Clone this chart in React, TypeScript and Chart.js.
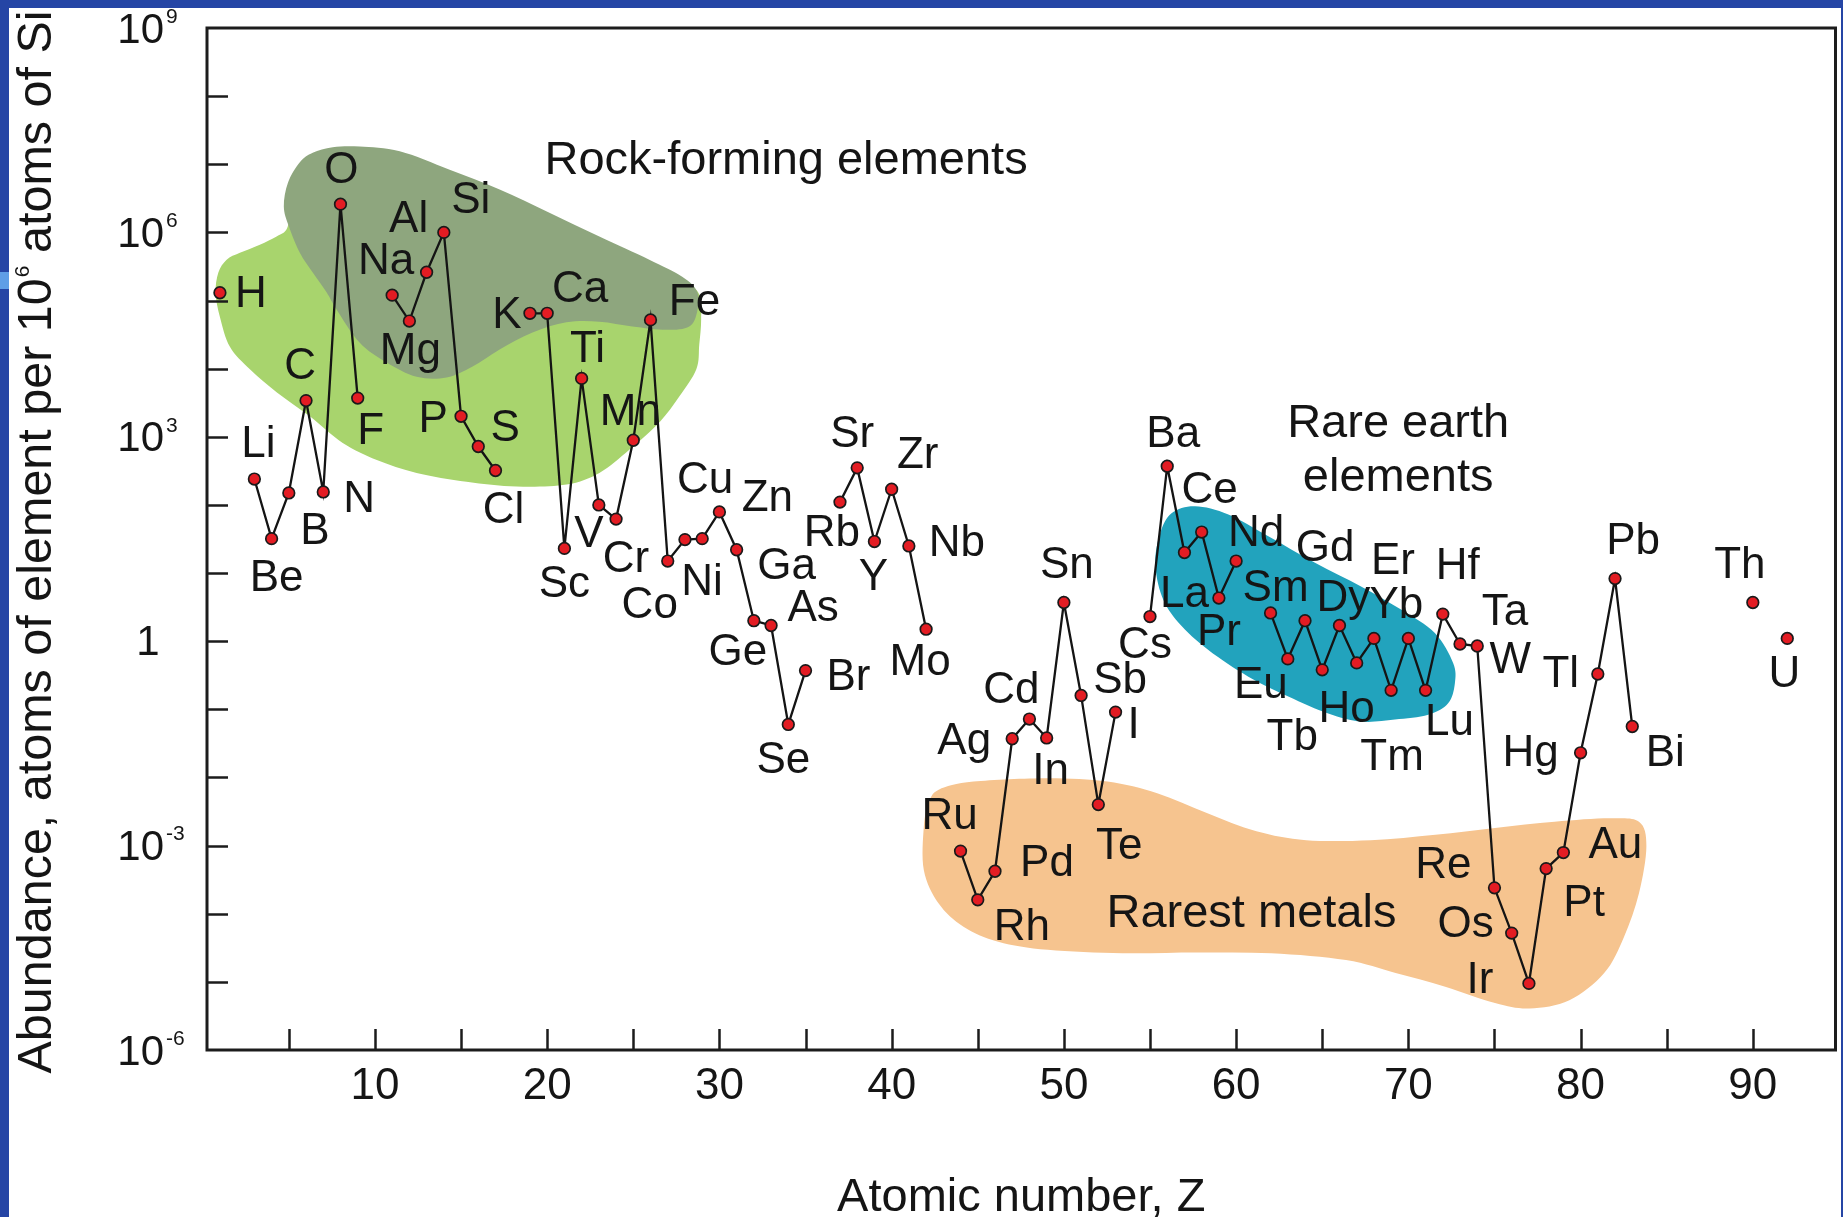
import React, { useEffect, useRef } from "react";
import { Chart, registerables } from "chart.js";

Chart.register(...registerables);

// ---------- data ----------
const SYMBOLS = ["H","Li","Be","B","C","N","O","F","Na","Mg","Al","Si","P","S","Cl","K","Ca","Sc","Ti","V","Cr","Mn","Fe","Co","Ni","Cu","Zn","Ga","Ge","As","Se","Br","Rb","Sr","Y","Zr","Nb","Mo","Ru","Rh","Pd","Ag","Cd","In","Sn","Sb","Te","I","Cs","Ba","La","Ce","Pr","Nd","Sm","Eu","Gd","Tb","Dy","Ho","Er","Tm","Yb","Lu","Hf","Ta","W","Re","Os","Ir","Pt","Au","Hg","Tl","Pb","Bi","Th","U"];

const ATOMIC_NUMBERS = [1,3,4,5,6,7,8,9,11,12,13,14,15,16,17,19,20,21,22,23,24,25,26,27,28,29,30,31,32,33,34,35,37,38,39,40,41,42,44,45,46,47,48,49,50,51,52,53,55,56,57,58,59,60,62,63,64,65,66,67,68,69,70,71,72,73,74,75,76,77,78,79,80,81,82,83,90,92];

// atoms of element per 10^6 atoms of Si
const ABUNDANCE = [
  1.3e5, 240, 32, 150, 3400, 155, 2.6e6, 3700,
  1.2e5, 5.0e4, 2.6e5, 1.0e6, 2000, 720, 320,
  6.5e4, 6.5e4, 23, 7200, 100, 62, 890, 5.2e4, 15, 31, 32, 79, 22, 2.0, 1.7, 0.06, 0.37,
  110, 350, 29, 170, 25, 1.5,
  8.3e-4, 1.6e-4, 4.2e-4, 0.037, 0.072, 0.038, 3.7, 0.16, 4.0e-3, 0.091,
  2.3, 370, 20, 40, 4.3, 15,
  2.6, 0.55, 2.0, 0.38, 1.7, 0.48, 1.1, 0.19, 1.1, 0.19, 2.5, 0.91, 0.85,
  2.4e-4, 5.2e-5, 9.5e-6, 4.6e-4, 7.9e-4, 0.023, 0.33, 8.3, 0.056,
  3.7, 1.1,
];

const X_TICKS = [5,10,15,20,25,30,35,40,45,50,55,60,65,70,75,80,85,90];
const X_TICK_LABELS = [10,20,30,40,50,60,70,80,90];
const Y_TICK_EXPONENTS = [-5,-4,-3,-2,-1,0,1,2,3,4,5,6,7,8];
const Y_LABEL_EXPONENTS = [9,6,3,0,-3,-6];

// region outlines: [atomic number, log10 abundance]
const GREEN_REGION = [[5.1,6.4],[5.25,6.7],[5.75,6.97],[6.45,7.11],[7.6,7.19],[9.12,7.2],[11.44,7.13],[14.34,6.86],[17.24,6.57],[20.13,6.23],[23.03,5.88],[25.93,5.54],[27.84,5.3],[28.83,5.09],[28.94,4.72],[28.83,4.35],[28.66,3.99],[27.67,3.59],[26.51,3.21],[24.77,2.81],[23.03,2.47],[21.12,2.3],[18.22,2.27],[15.32,2.34],[12.42,2.47],[10.11,2.66],[8.13,2.91],[6.22,3.3],[4.31,3.65],[2.74,3.99],[1.58,4.32],[1.0,4.76],[0.75,5.11],[0.91,5.41],[1.39,5.6],[2.16,5.7],[3.32,5.82],[4.29,5.94],[4.9,6.06]];
const DARK_REGION = [[4.71,6.38],[4.95,6.73],[5.64,7.03],[6.39,7.17],[7.55,7.25],[9.12,7.26],[11.44,7.19],[14.34,6.92],[17.24,6.63],[20.13,6.29],[23.03,5.94],[25.93,5.6],[27.84,5.35],[28.71,5.13],[28.71,4.84],[28.25,4.62],[26.92,4.57],[24.95,4.62],[23.03,4.69],[21.12,4.68],[19.15,4.53],[17.24,4.28],[15.67,4.03],[14.16,3.87],[12.42,3.88],[10.68,4.09],[9.12,4.38],[7.77,4.87],[7.19,5.12],[6.39,5.41],[5.64,5.7],[5.0,6.09]];
const TEAL_REGION = [[56.27,1.88],[57.62,1.98],[59.55,1.86],[61.87,1.54],[64.58,1.15],[67.28,0.8],[69.6,0.46],[71.54,0.12],[72.6,-0.32],[72.7,-0.62],[72.31,-0.91],[71.15,-1.08],[69.22,-1.15],[67.28,-1.18],[65.35,-1.06],[63.03,-0.81],[60.71,-0.52],[58.39,-0.13],[56.66,0.27],[55.69,0.66],[55.31,1.15],[55.6,1.59]];
const PEACH_REGION = [[42.73,-2.18],[44.75,-2.06],[49.07,-2.01],[52.53,-2.06],[55.42,-2.23],[58.3,-2.52],[61.18,-2.79],[64.07,-2.92],[67.82,-2.92],[71.57,-2.84],[75.03,-2.74],[78.49,-2.65],[81.66,-2.6],[83.39,-2.65],[83.82,-3.01],[83.39,-3.7],[82.52,-4.34],[81.37,-4.87],[79.35,-5.27],[77.04,-5.39],[75.03,-5.31],[72.14,-5.07],[69.26,-4.87],[66.38,-4.68],[62.05,-4.58],[57.72,-4.57],[53.4,-4.58],[49.07,-4.53],[46.19,-4.41],[44.17,-4.19],[42.73,-3.85],[41.87,-3.36],[41.87,-2.72],[42.15,-2.38]];

const REGION_TEXT = ["Rock-forming elements", "Rare earth", "elements", "Rarest metals"];
const REGION_TEXT_Z = [33.87, 69.41, 69.41, 60.89];
const REGION_TEXT_LOG = [6.85, 3.0, 2.21, -4.19];

// ---------- layout / style ----------
const LABEL_OFFSETS: Record<string, [number, number]> = {
  H:[31,2], Li:[4,-34], Be:[5,40], B:[26,39], C:[-6,-34], N:[36,8], O:[1,-33], F:[13,34],
  Na:[-6,-33], Mg:[1,31], Al:[-18,-52], Si:[27,-32], P:[-28,4], S:[27,-18], Cl:[8,40],
  K:[-23,3], Ca:[33,-23], Sc:[0,36], Ti:[6,-29], V:[-10,30], Cr:[10,41], Mn:[-3,-27], Fe:[44,-17],
  Co:[-18,45], Ni:[17,43], Cu:[3,-58], Zn:[48,-13], Ga:[50,17], Ge:[-16,32], As:[42,-17], Se:[-5,36], Br:[43,7],
  Rb:[-8,32], Sr:[-5,-33], Y:[-1,36], Zr:[26,-33], Nb:[48,-2], Mo:[-6,34],
  Ru:[-11,-34], Rh:[44,28], Pd:[52,-7], Ag:[-48,3], Cd:[-18,-28], In:[4,34], Sn:[3,-37], Sb:[39,-15], Te:[21,42], I:[18,14],
  Cs:[-5,29], Ba:[6,-31], La:[0,42], Ce:[8,-41], Pr:[0,35], Nd:[20,-27],
  Sm:[5,-24], Eu:[-27,27], Gd:[20,-72], Tb:[-30,68], Dy:[4,-27], Ho:[-10,47], Er:[19,-77], Tm:[1,68], Yb:[-12,-33], Lu:[24,33],
  Hf:[15,-47], Ta:[45,-31], W:[33,15], Re:[-51,-22], Os:[-46,-8], Ir:[-49,-3], Pt:[38,35], Au:[52,-7], Hg:[-50,1], Tl:[-37,1],
  Pb:[18,-37], Bi:[33,27], Th:[-13,-37], U:[-3,36],
};

const FONT = "'Liberation Sans', Arial, Helvetica, sans-serif";
const INK = "#151515";
const W = 1843;
const H = 1217;

function buildLineData() {
  const out: { x: number; y: number | null }[] = [];
  for (let i = 0; i < ATOMIC_NUMBERS.length; i++) {
    if (i > 0 && ATOMIC_NUMBERS[i] - ATOMIC_NUMBERS[i - 1] > 1) {
      out.push({ x: ATOMIC_NUMBERS[i - 1] + 1, y: null });
    }
    out.push({ x: ATOMIC_NUMBERS[i], y: ABUNDANCE[i] });
  }
  return out;
}

function smoothClosed(ctx: CanvasRenderingContext2D, pts: number[][]) {
  const n = pts.length;
  ctx.beginPath();
  ctx.moveTo(pts[0][0], pts[0][1]);
  for (let i = 0; i < n; i++) {
    const p0 = pts[(i - 1 + n) % n];
    const p1 = pts[i];
    const p2 = pts[(i + 1) % n];
    const p3 = pts[(i + 2) % n];
    const c1x = p1[0] + (p2[0] - p0[0]) / 6;
    const c1y = p1[1] + (p2[1] - p0[1]) / 6;
    const c2x = p2[0] - (p3[0] - p1[0]) / 6;
    const c2y = p2[1] - (p3[1] - p1[1]) / 6;
    ctx.bezierCurveTo(c1x, c1y, c2x, c2y, p2[0], p2[1]);
  }
  ctx.closePath();
}

const decorPlugin = {
  id: "decor",
  beforeDraw(chart: any) {
    const ctx = chart.ctx as CanvasRenderingContext2D;
    ctx.save();
    ctx.fillStyle = "#ffffff";
    ctx.fillRect(0, 0, chart.width, chart.height);
    ctx.fillStyle = "#2545a5";
    ctx.fillRect(0, 0, chart.width, 8);
    ctx.fillRect(0, 0, 9, chart.height);
    ctx.fillRect(chart.width - 2, 0, 2, chart.height);
    ctx.fillStyle = "#5f9ee6";
    ctx.fillRect(0, 272, 9, 17);
    ctx.restore();
  },
  beforeDatasetsDraw(chart: any) {
    const ctx = chart.ctx as CanvasRenderingContext2D;
    const xs = chart.scales.x;
    const ys = chart.scales.y;
    const toPx = (pts: number[][]) =>
      pts.map((p) => [xs.getPixelForValue(p[0]), ys.getPixelForValue(Math.pow(10, p[1]))]);
    ctx.save();
    const regions: [number[][], string][] = [
      [GREEN_REGION, "#a8d46d"],
      [DARK_REGION, "#8ea67e"],
      [TEAL_REGION, "#22a3bd"],
      [PEACH_REGION, "#f6c48f"],
    ];
    for (const [pts, color] of regions) {
      smoothClosed(ctx, toPx(pts));
      ctx.fillStyle = color;
      ctx.fill();
    }
    ctx.restore();
  },
  afterDatasetsDraw(chart: any) {
    const ctx = chart.ctx as CanvasRenderingContext2D;
    const xs = chart.scales.x;
    const ys = chart.scales.y;
    const a = chart.chartArea;
    ctx.save();

    // frame
    ctx.strokeStyle = "#1c1c1c";
    ctx.lineWidth = 3;
    ctx.strokeRect(a.left, a.top, a.right - a.left, a.bottom - a.top);

    // inward ticks
    ctx.lineWidth = 2.5;
    ctx.beginPath();
    for (const t of X_TICKS) {
      const px = Math.round(xs.getPixelForValue(t)) + 0.5;
      ctx.moveTo(px, a.bottom);
      ctx.lineTo(px, a.bottom - 21);
    }
    for (const e of Y_TICK_EXPONENTS) {
      const py = Math.round(ys.getPixelForValue(Math.pow(10, e))) + 0.5;
      ctx.moveTo(a.left, py);
      ctx.lineTo(a.left + 21, py);
    }
    ctx.stroke();

    ctx.fillStyle = INK;
    // x tick labels
    ctx.font = `44px ${FONT}`;
    ctx.textAlign = "center";
    ctx.textBaseline = "middle";
    for (const t of X_TICK_LABELS) {
      ctx.fillText(String(t), xs.getPixelForValue(t), a.bottom + 37);
    }
    // y tick labels with superscripts
    for (const e of Y_LABEL_EXPONENTS) {
      const py = ys.getPixelForValue(Math.pow(10, e));
      if (e === 0) {
        ctx.font = `42px ${FONT}`;
        ctx.textAlign = "center";
        ctx.fillText("1", a.left - 59, py + 2);
        continue;
      }
      ctx.font = `42px ${FONT}`;
      ctx.textAlign = "right";
      ctx.fillText("10", a.left - 43, py + 3);
      ctx.font = `21px ${FONT}`;
      ctx.textAlign = "left";
      ctx.fillText(String(e), a.left - 41, py - 11);
    }

    // axis titles
    ctx.font = `47px ${FONT}`;
    ctx.textAlign = "center";
    ctx.textBaseline = "alphabetic";
    ctx.fillText("Atomic number, Z", (a.left + a.right) / 2, 1211);

    ctx.save();
    const yc = (a.top + a.bottom) / 2 + 3;
    ctx.translate(51, yc);
    ctx.rotate(-Math.PI / 2);
    const p1 = "Abundance, atoms of element per 10";
    const sup = "6";
    const p2 = " atoms of Si";
    const TF = `48.5px ${FONT}`;
    const SF = `21px ${FONT}`;
    ctx.font = TF;
    const w1 = ctx.measureText(p1).width;
    const w2 = ctx.measureText(p2).width;
    ctx.font = SF;
    const ws = ctx.measureText(sup).width;
    const total = w1 + ws + w2;
    const x0 = -total / 2;
    ctx.textAlign = "left";
    ctx.font = TF;
    ctx.fillText(p1, x0, 0);
    ctx.font = SF;
    ctx.fillText(sup, x0 + w1 + 1, -22);
    ctx.font = TF;
    ctx.fillText(p2, x0 + w1 + ws, 0);
    ctx.restore();

    // region labels
    ctx.font = `47px ${FONT}`;
    ctx.textAlign = "center";
    ctx.textBaseline = "alphabetic";
    for (let i = 0; i < REGION_TEXT.length; i++) {
      ctx.fillText(
        REGION_TEXT[i],
        xs.getPixelForValue(REGION_TEXT_Z[i]),
        ys.getPixelForValue(Math.pow(10, REGION_TEXT_LOG[i]))
      );
    }

    // element labels
    ctx.font = `44px ${FONT}`;
    ctx.textAlign = "center";
    ctx.textBaseline = "middle";
    for (let i = 0; i < SYMBOLS.length; i++) {
      const s = SYMBOLS[i];
      const off = LABEL_OFFSETS[s] || [0, -30];
      const px = xs.getPixelForValue(ATOMIC_NUMBERS[i]);
      const py = ys.getPixelForValue(ABUNDANCE[i]);
      ctx.fillText(s, px + off[0], py + off[1]);
    }
    ctx.restore();
  },
};

export default function App() {
  const ref = useRef<HTMLCanvasElement | null>(null);
  useEffect(() => {
    if (!ref.current) return;
    const chart = new Chart(ref.current, {
      type: "line",
      data: {
        datasets: [
          {
            data: buildLineData() as any,
            borderColor: "#141414",
            borderWidth: 2.3,
            pointRadius: 5.8,
            pointBorderWidth: 1.7,
            pointBackgroundColor: "#e31c23",
            pointBorderColor: "#1a1a1a",
            spanGaps: false,
            tension: 0,
            fill: false,
          },
        ],
      },
      options: {
        animation: false,
        responsive: false,
        devicePixelRatio: 1,
        events: [],
        layout: { padding: { left: 207, top: 28, right: 5, bottom: 167 } },
        plugins: {
          legend: { display: false },
          tooltip: { enabled: false },
          title: { display: false },
        },
        scales: {
          x: { type: "linear", min: 0.25, max: 94.8, display: false },
          y: { type: "logarithmic", min: 1e-6, max: 1e9, display: false },
        },
      },
      plugins: [decorPlugin as any],
    });
    return () => chart.destroy();
  }, []);

  return (
    <div style={{ position: "fixed", left: 0, top: 0, width: W, height: H, background: "#fff" }}>
      <canvas ref={ref} width={W} height={H} style={{ display: "block", width: W, height: H }} />
    </div>
  );
}
